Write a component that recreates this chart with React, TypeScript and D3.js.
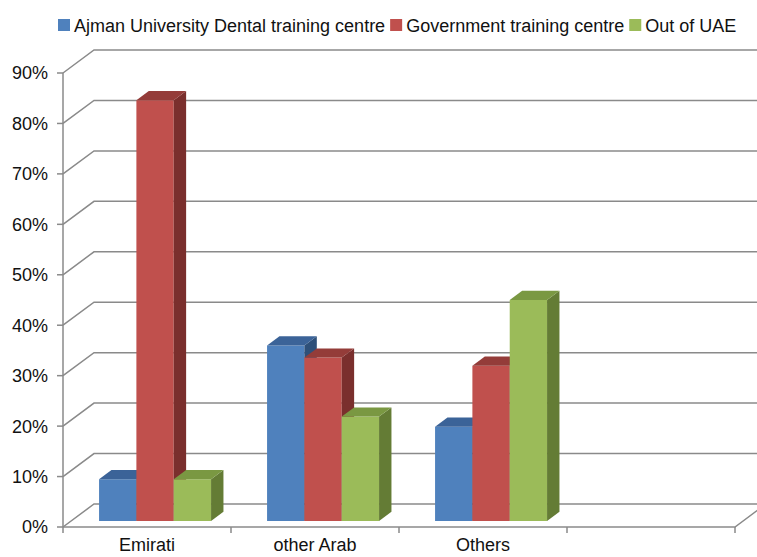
import { useEffect, useRef } from "react";
import * as d3 from "d3";

// categories (the 4th slot is empty in the original chart)
const categories = ["Emirati", "other Arab", "Others", ""];
const seriesNames = [
  "Ajman University Dental training centre",
  "Government training centre",
  "Out of UAE",
];
// percent values per series, in category order
const ajmanValues = [8.3, 34.8, 18.7];
const governmentValues = [83.4, 32.4, 30.8];
const outOfUaeValues = [8.3, 20.7, 43.8];
const yTicks = [0, 10, 20, 30, 40, 50, 60, 70, 80, 90];

const COLORS = [
  { front: "#4F81BD", top: "#3B6398", side: "#2E5079" },
  { front: "#C0504D", top: "#943C39", side: "#7A2F2D" },
  { front: "#9BBB59", top: "#7A9842", side: "#647C35" },
];

const W = 757;
const H = 557;
const FONT = "'Liberation Sans', Arial, Helvetica, sans-serif";

export default function App() {
  const ref = useRef<SVGSVGElement | null>(null);

  useEffect(() => {
    const svg = d3.select(ref.current);
    svg.selectAll("*").remove();

    // 3D wall depth offset
    const depthX = 31;
    const depthY = -23;
    const t0 = 0.26; // bar front plane
    const t1 = 0.66; // bar back plane
    const proj = (x: number, y: number, t: number): [number, number] => [
      x + depthX * t,
      y + depthY * t,
    ];

    const x = d3.scaleBand<string>().domain(categories).range([63, 735]);
    const x1 = d3
      .scaleBand<number>()
      .domain([0, 1, 2])
      .range([0, x.bandwidth()])
      .paddingOuter(0.75);
    const y = d3.scaleLinear().domain([0, 90]).range([527, 73]);

    const gridColor = "#8a8a8a";
    const grid = svg.append("g");

    // back wall gridlines with diagonals to the front axis
    yTicks.forEach((v) => {
      const [bx, by] = proj(63, y(v), 1);
      grid
        .append("path")
        .attr("d", `M63,${y(v)}L${bx},${by}L${proj(735, y(v), 1)[0]},${by}`)
        .attr("fill", "none")
        .attr("stroke", gridColor)
        .attr("stroke-width", 1.5);
      grid
        .append("line")
        .attr("x1", 57)
        .attr("x2", 63)
        .attr("y1", y(v))
        .attr("y2", y(v))
        .attr("stroke", gridColor)
        .attr("stroke-width", 1.5);
      grid
        .append("text")
        .attr("x", 48)
        .attr("y", y(v))
        .attr("dy", "0.36em")
        .attr("text-anchor", "end")
        .attr("font-family", FONT)
        .attr("font-size", 18)
        .attr("fill", "#111")
        .text(`${v}%`);
    });

    // vertical axis + floor front edge
    grid
      .append("line")
      .attr("x1", 63)
      .attr("x2", 63)
      .attr("y1", y(90))
      .attr("y2", y(0))
      .attr("stroke", gridColor)
      .attr("stroke-width", 1.5);
    const [fx, fy] = proj(735, y(0), 1);
    grid
      .append("path")
      .attr("d", `M63,${y(0)}L735,${y(0)}L${fx},${fy}`)
      .attr("fill", "none")
      .attr("stroke", gridColor)
      .attr("stroke-width", 1.5);

    // category ticks and labels
    const edges = categories.map((c) => x(c) as number).concat([735]);
    edges.forEach((ex) => {
      grid
        .append("line")
        .attr("x1", ex)
        .attr("x2", ex)
        .attr("y1", y(0))
        .attr("y2", y(0) + 6)
        .attr("stroke", gridColor)
        .attr("stroke-width", 1.5);
    });
    categories.forEach((c) => {
      grid
        .append("text")
        .attr("x", (x(c) as number) + x.bandwidth() / 2)
        .attr("y", 551)
        .attr("text-anchor", "middle")
        .attr("font-family", FONT)
        .attr("font-size", 18)
        .attr("fill", "#111")
        .text(c);
    });

    // bars, drawn left to right so each covers the previous side face
    const allValues = [ajmanValues, governmentValues, outOfUaeValues];
    const bars = svg.append("g");
    categories.forEach((c, ci) => {
      allValues.forEach((vals, si) => {
        const v = vals[ci];
        if (v == null) return;
        const xl = (x(c) as number) + (x1(si) as number);
        const xr = xl + x1.bandwidth();
        const yb = y(0);
        const yt = y(v);
        const p = (px: number, py: number, t: number) => proj(px, py, t).join(",");
        const col = COLORS[si];
        // front
        bars
          .append("path")
          .attr("d", `M${p(xl, yb, t0)}L${p(xr, yb, t0)}L${p(xr, yt, t0)}L${p(xl, yt, t0)}Z`)
          .attr("fill", col.front);
        // side
        bars
          .append("path")
          .attr("d", `M${p(xr, yb, t0)}L${p(xr, yb, t1)}L${p(xr, yt, t1)}L${p(xr, yt, t0)}Z`)
          .attr("fill", col.side);
        // top
        bars
          .append("path")
          .attr("d", `M${p(xl, yt, t0)}L${p(xr, yt, t0)}L${p(xr, yt, t1)}L${p(xl, yt, t1)}Z`)
          .attr("fill", col.top);
      });
    });

    // legend, laid out sequentially from measured text widths
    const legend = svg.append("g");
    let lx = 58;
    seriesNames.forEach((name, si) => {
      legend
        .append("rect")
        .attr("x", lx)
        .attr("y", 19)
        .attr("width", 12)
        .attr("height", 12)
        .attr("fill", COLORS[si].front);
      const t = legend
        .append("text")
        .attr("x", lx + 16)
        .attr("y", 31.5)
        .attr("font-family", FONT)
        .attr("font-size", 18)
        .attr("fill", "#111")
        .text(name);
      const w = (t.node() as SVGTextElement).getComputedTextLength();
      lx = lx + 16 + w + 5;
    });
  }, []);

  return (
    <svg
      ref={ref}
      width={W}
      height={H}
      style={{ position: "absolute", left: 0, top: 0, background: "#fff" }}
    />
  );
}
